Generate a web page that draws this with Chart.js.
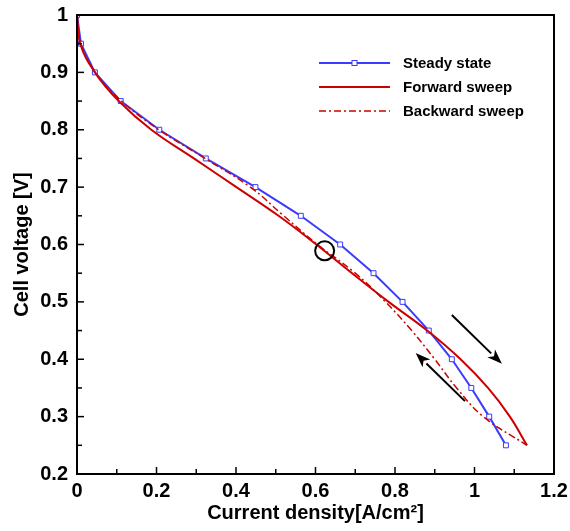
<!DOCTYPE html>
<html>
<head>
<meta charset="utf-8">
<script src="https://cdn.jsdelivr.net/npm/chart.js@4/dist/chart.umd.min.js"></script>
<style>
  body { margin: 0; background: #fff; }
  #wrap { width: 570px; height: 531px; }
</style>
</head>
<body>
<div id="wrap"><canvas id="polcurve"></canvas></div>
<script>
const FONT = '"Liberation Sans", Arial, sans-serif';

// steady state polarization curve (markers)
const steadyCurrent = [0, 0.01, 0.045, 0.11, 0.207, 0.324, 0.449, 0.563, 0.662, 0.746, 0.819, 0.885, 0.943, 0.992, 1.037, 1.079];
const steadyVoltage = [1.0, 0.95, 0.9, 0.85, 0.8, 0.75, 0.7, 0.65, 0.6, 0.55, 0.5, 0.45, 0.4, 0.35, 0.3, 0.25];

// forward sweep
const forwardCurrent = [0, 0.008, 0.045, 0.105, 0.187, 0.294, 0.401, 0.507, 0.602, 0.692, 0.784, 0.881, 0.965, 1.034, 1.089, 1.132];
const forwardVoltage = [1.0, 0.95, 0.9, 0.85, 0.8, 0.75, 0.7, 0.65, 0.6, 0.55, 0.5, 0.45, 0.4, 0.35, 0.3, 0.25];

// backward sweep
const backwardCurrent = [0, 0.01, 0.046, 0.112, 0.206, 0.322, 0.436, 0.52, 0.605, 0.7, 0.776, 0.842, 0.9, 0.955, 1.022, 1.132];
const backwardVoltage = [1.0, 0.95, 0.9, 0.85, 0.8, 0.75, 0.7, 0.65, 0.6, 0.55, 0.5, 0.45, 0.4, 0.35, 0.3, 0.25];

// annotations: circled crossing point and sweep direction arrows
const crossPoint = { x: 0.623, y: 0.589 };
const forwardArrow = { from: [0.943, 0.477], to: [1.069, 0.392] };
const backwardArrow = { from: [0.976, 0.327], to: [0.852, 0.411] };

const legendItems = ["Steady state", "Forward sweep", "Backward sweep"];

const BLUE = "#3b3bff";
const RED = "#cc0000";

function toPoints(xs, ys) {
    return xs.map((x, i) => ({ x, y: ys[i] }));
}

function fmt(v) {
    return String(Number(v.toFixed(2)));
}

const frameAndTicks = {
    id: "frameAndTicks",
    afterDatasetsDraw(chart) {
        const { ctx, chartArea: a, scales } = chart;
        ctx.save();
        ctx.strokeStyle = "#000";
        ctx.lineWidth = 2;
        ctx.strokeRect(a.left, a.top, a.right - a.left, a.bottom - a.top);

        ctx.lineWidth = 1.5;
        scales.x.ticks.forEach((t) => {
            const px = scales.x.getPixelForValue(t.value);
            const major = Math.round(t.value * 100) % 20 === 0;
            ctx.beginPath();
            ctx.moveTo(px, a.bottom);
            ctx.lineTo(px, a.bottom - (major ? 7 : 5));
            ctx.stroke();
        });
        scales.y.ticks.forEach((t) => {
            const py = scales.y.getPixelForValue(t.value);
            const major = Math.round(t.value * 100) % 10 === 0;
            ctx.beginPath();
            ctx.moveTo(a.left, py);
            ctx.lineTo(a.left + (major ? 7 : 5), py);
            ctx.stroke();
        });

        // circle
        const cx = scales.x.getPixelForValue(crossPoint.x);
        const cy = scales.y.getPixelForValue(crossPoint.y);
        ctx.lineWidth = 2;
        ctx.beginPath();
        ctx.arc(cx, cy, 9.5, 0, Math.PI * 2);
        ctx.stroke();

        // arrows
        [forwardArrow, backwardArrow].forEach((ar) => {
            const x1 = scales.x.getPixelForValue(ar.from[0]);
            const y1 = scales.y.getPixelForValue(ar.from[1]);
            const x2 = scales.x.getPixelForValue(ar.to[0]);
            const y2 = scales.y.getPixelForValue(ar.to[1]);
            const ang = Math.atan2(y2 - y1, x2 - x1);
            const hl = 15, hw = 5.5;
            const bx = x2 - hl * Math.cos(ang);
            const by = y2 - hl * Math.sin(ang);
            ctx.beginPath();
            ctx.moveTo(x1, y1);
            ctx.lineTo(bx, by);
            ctx.stroke();
            ctx.fillStyle = "#000";
            ctx.beginPath();
            ctx.moveTo(x2, y2);
            ctx.lineTo(bx + hw * Math.sin(ang), by - hw * Math.cos(ang));
            ctx.lineTo(bx + 4 * Math.cos(ang), by + 4 * Math.sin(ang));
            ctx.lineTo(bx - hw * Math.sin(ang), by + hw * Math.cos(ang));
            ctx.closePath();
            ctx.fill();
        });

        // legend
        const lx1 = 319, lx2 = 390, tx = 403;
        const rows = [63, 87, 111];
        ctx.font = "bold 15px " + FONT;
        ctx.textBaseline = "middle";
        ctx.fillStyle = "#000";
        rows.forEach((y, i) => {
            ctx.beginPath();
            ctx.moveTo(lx1, y);
            ctx.lineTo(lx2, y);
            if (i === 0) {
                ctx.strokeStyle = BLUE;
                ctx.lineWidth = 2;
                ctx.setLineDash([]);
            } else if (i === 1) {
                ctx.strokeStyle = RED;
                ctx.lineWidth = 2;
                ctx.setLineDash([]);
            } else {
                ctx.strokeStyle = RED;
                ctx.lineWidth = 1.5;
                ctx.setLineDash([7, 3, 2, 3]);
            }
            ctx.stroke();
            ctx.setLineDash([]);
            if (i === 0) {
                ctx.fillStyle = "#fff";
                ctx.fillRect(352, y - 2.5, 5, 5);
                ctx.strokeStyle = BLUE;
                ctx.lineWidth = 1;
                ctx.strokeRect(352, y - 2.5, 5, 5);
                ctx.fillStyle = "#000";
            }
            ctx.fillText(legendItems[i], tx, y + 1);
        });
        ctx.restore();
    },
};

const ctx = document.getElementById("polcurve");

new Chart(ctx, {
    type: "scatter",
    data: {
        datasets: [
            {
                label: legendItems[1],
                data: toPoints(forwardCurrent, forwardVoltage),
                showLine: true,
                borderColor: RED,
                borderWidth: 2,
                pointRadius: 0,
                tension: 0.4,
            },
            {
                label: legendItems[2],
                data: toPoints(backwardCurrent, backwardVoltage),
                showLine: true,
                borderColor: RED,
                borderWidth: 1.5,
                borderDash: [7, 3, 2, 3],
                pointRadius: 0,
                tension: 0.4,
            },
            {
                label: legendItems[0],
                data: toPoints(steadyCurrent, steadyVoltage),
                showLine: true,
                borderColor: BLUE,
                borderWidth: 2,
                tension: 0,
                pointStyle: "rect",
                pointRadius: 3.5,
                pointBorderWidth: 1,
                pointBorderColor: BLUE,
                pointBackgroundColor: "#fff",
            },
        ],
    },
    options: {
        responsive: true,
        maintainAspectRatio: false,
        animation: false,
        layout: { padding: { left: 0, right: 16, top: 15, bottom: 0 } },
        plugins: {
            legend: { display: false },
            tooltip: { enabled: false },
        },
        scales: {
            x: {
                type: "linear",
                min: 0,
                max: 1.2,
                grid: { display: false, drawTicks: false },
                border: { display: false },
                afterFit: (s) => {
                    s.height = 57;
                    s.paddingLeft = 0;
                    s.paddingRight = 0;
                },
                ticks: {
                    stepSize: 0.1,
                    padding: 5,
                    color: "#000",
                    font: { family: FONT, size: 20, weight: "bold" },
                    autoSkip: false,
                    maxRotation: 0,
                    callback: (v) => (Math.round(v * 100) % 20 === 0 ? fmt(v) : ""),
                },
                title: {
                    display: true,
                    text: "Current density[A/cm²]",
                    color: "#000",
                    font: { family: FONT, size: 20, weight: "bold" },
                    padding: { top: 0, bottom: 6 },
                },
            },
            y: {
                type: "linear",
                min: 0.2,
                max: 1.0,
                grid: { display: false, drawTicks: false },
                border: { display: false },
                afterFit: (s) => {
                    s.width = 77;
                    s.paddingTop = 0;
                    s.paddingBottom = 0;
                },
                ticks: {
                    stepSize: 0.05,
                    padding: 9,
                    color: "#000",
                    font: { family: FONT, size: 20, weight: "bold" },
                    autoSkip: false,
                    callback: (v) => (Math.round(v * 100) % 10 === 0 ? fmt(v) : ""),
                },
                title: {
                    display: true,
                    text: "Cell voltage [V]",
                    color: "#000",
                    font: { family: FONT, size: 20, weight: "bold" },
                    padding: { top: 10, bottom: 0 },
                },
            },
        },
    },
    plugins: [frameAndTicks],
});
</script>
</body>
</html>
